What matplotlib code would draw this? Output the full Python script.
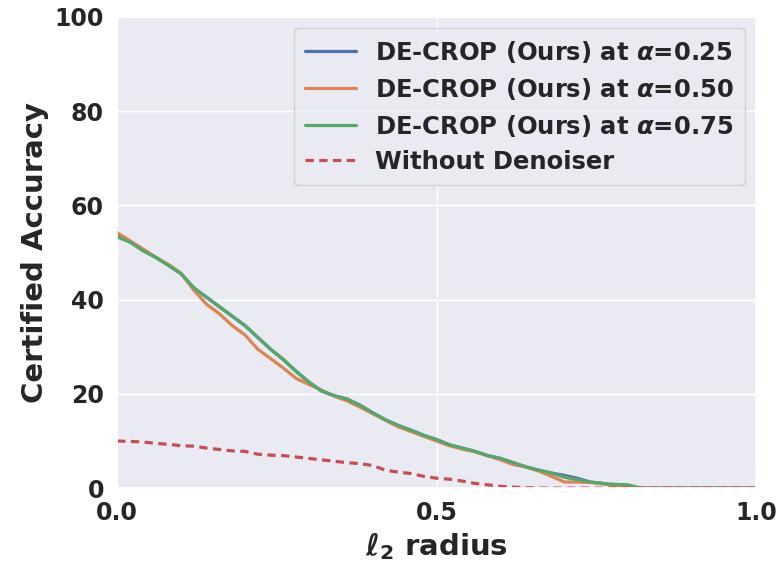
import numpy as np
import matplotlib
matplotlib.use("Agg")
import matplotlib.pyplot as plt
import seaborn as sns

sns.set_theme(style="darkgrid")
plt.rcParams['font.family'] = ['DejaVu Sans']
plt.rcParams['font.weight'] = 'bold'
plt.rcParams['mathtext.fontset'] = 'dejavusans'

radius = [0.00, 0.02, 0.04, 0.06, 0.08, 0.10, 0.12, 0.14, 0.16, 0.18,
          0.20, 0.22, 0.24, 0.26, 0.28, 0.30, 0.32, 0.34, 0.36, 0.38,
          0.40, 0.42, 0.44, 0.46, 0.48, 0.50, 0.52, 0.54, 0.56, 0.58,
          0.60, 0.62, 0.64, 0.66, 0.68, 0.70, 0.72, 0.74, 0.76, 0.78,
          0.80, 0.82, 0.84, 0.86, 0.88, 0.90, 0.92, 0.94, 0.96, 0.98, 1.00]

acc_a025 = [53.5, 52.3, 50.5, 49.0, 47.3, 45.5, 42.5, 40.5, 38.5, 36.5,
            34.5, 32.0, 29.5, 27.3, 24.8, 22.5, 20.6, 19.6, 18.9, 17.6,
            16.0, 14.5, 13.3, 12.3, 11.2, 10.3, 9.2, 8.5, 7.8, 6.9,
            6.3, 5.4, 4.5, 3.8, 3.2, 2.7, 2.1, 1.3, 1.0, 0.5,
            0.2, 0.0, 0.0, 0.0, 0.0, 0.0, 0.0, 0.0, 0.0, 0.0, 0.0]

acc_a050 = [54.2, 52.5, 50.8, 49.0, 47.5, 45.6, 42.0, 39.0, 37.0, 34.5,
            32.5, 29.5, 27.5, 25.5, 23.3, 22.0, 20.8, 19.5, 18.5, 17.2,
            15.8, 14.4, 13.0, 12.0, 11.0, 10.0, 9.0, 8.3, 7.7, 6.9,
            6.0, 5.0, 4.5, 3.6, 2.5, 1.3, 1.3, 1.2, 0.9, 0.5,
            0.2, 0.0, 0.0, 0.0, 0.0, 0.0, 0.0, 0.0, 0.0, 0.0, 0.0]

acc_a075 = [53.3, 52.2, 50.4, 49.0, 47.3, 45.5, 42.5, 40.5, 38.5, 36.5,
            34.5, 32.0, 29.5, 27.3, 24.8, 22.5, 20.6, 19.6, 18.9, 17.6,
            16.0, 14.5, 13.3, 12.3, 11.2, 10.3, 9.2, 8.5, 7.8, 6.9,
            6.3, 5.4, 4.5, 3.8, 3.2, 2.3, 1.8, 1.3, 1.0, 0.8,
            0.7, 0.0, 0.0, 0.0, 0.0, 0.0, 0.0, 0.0, 0.0, 0.0, 0.0]

acc_nodenoise = [10.0, 9.9, 9.8, 9.5, 9.3, 9.0, 8.9, 8.5, 8.2, 7.9,
                 7.8, 7.2, 7.0, 6.9, 6.6, 6.3, 6.0, 5.7, 5.4, 5.2,
                 4.8, 3.8, 3.4, 3.1, 2.5, 2.1, 1.9, 1.5, 1.0, 0.7,
                 0.4, 0.2, 0.1, 0.0, 0.0, 0.0, 0.0, 0.0, 0.0, 0.0,
                 0.0, 0.0, 0.0, 0.0, 0.0, 0.0, 0.0, 0.0, 0.0, 0.0, 0.0]

labels = [r"DE-CROP (Ours) at $\boldsymbol{\alpha}$=0.25",
          r"DE-CROP (Ours) at $\boldsymbol{\alpha}$=0.50",
          r"DE-CROP (Ours) at $\boldsymbol{\alpha}$=0.75",
          "Without Denoiser"]

pal = sns.color_palette("deep")

fig = plt.figure(figsize=(7.81, 5.63), dpi=100)
ax = fig.add_axes([0.150, 0.133, 0.818, 0.837])

ax.plot(radius, acc_a025, color=pal[0], lw=2.3, label=labels[0])
ax.plot(radius, acc_a050, color=pal[1], lw=2.3, label=labels[1])
ax.plot(radius, acc_a075, color=pal[2], lw=2.3, label=labels[2])
ax.plot(radius, acc_nodenoise, color=pal[3], lw=2.3, ls=(0, (2.6, 1.7)), label=labels[3])

ax.set_xlim(0, 1)
ax.set_ylim(0, 100)
ax.set_xticks([0.0, 0.5, 1.0])
ax.set_yticks([0, 20, 40, 60, 80, 100])
ax.tick_params(labelsize=17)
for t in ax.get_xticklabels() + ax.get_yticklabels():
    t.set_fontweight('bold')
ax.set_xlabel(r"$\boldsymbol{\ell_2}$ radius", fontsize=21, fontweight='bold')
ax.set_ylabel("Certified Accuracy", fontsize=21, fontweight='bold')

leg = ax.legend(loc="upper right", prop={'weight': 'bold', 'size': 17.5},
                labelspacing=0.45, borderaxespad=0.45, borderpad=0.45,
                handletextpad=0.8, handlelength=2.1)

fig.savefig("out.png", dpi=100)
